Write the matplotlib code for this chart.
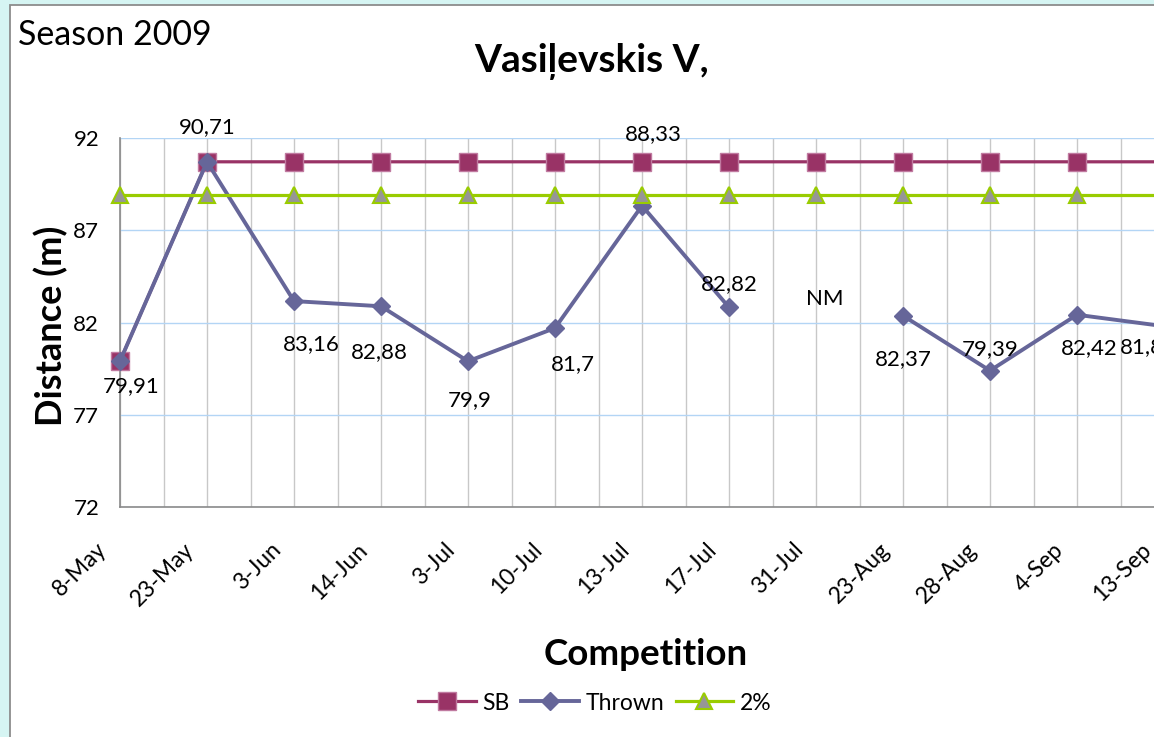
import numpy as np
import matplotlib
matplotlib.use("Agg")
import matplotlib.pyplot as plt
from matplotlib.patches import Rectangle
from matplotlib.ticker import MultipleLocator
import matplotlib.transforms as mtransforms

# ---------------- data ----------------
competitions = ["8-May", "23-May", "3-Jun", "14-Jun", "3-Jul", "10-Jul", "13-Jul",
                "17-Jul", "31-Jul", "23-Aug", "28-Aug", "4-Sep", "13-Sep"]
sb = [79.91, 90.71, 90.71, 90.71, 90.71, 90.71, 90.71, 90.71, 90.71, 90.71, 90.71, 90.71, 90.71]
thrown = [79.91, 90.71, 83.16, 82.88, 79.9, 81.7, 88.33, 82.82, np.nan, 82.37, 79.39, 82.42, 81.8]
two_pct = [88.9, 88.9, 88.9, 88.9, 88.9, 88.9, 88.9, 88.9, 88.9, 88.9, 88.9, 88.9, 88.9]
y_ticks = [72, 77, 82, 87, 92]

# label offsets in pixels (dx, dy; dy positive = up)
label_offsets = [(11, -25), (0, 35), (17, -43), (-2, -46), (2, -39), (18, -36), (11, 72),
                 (0, 23), None, (0, -43.5), (0, 21.5), (12, -33), (-22, -21)]

W, H = 1154, 737
FONT = "Lato"
plt.rcParams['font.family'] = [FONT, 'DejaVu Sans']

fig = plt.figure(figsize=(W / 100, H / 100), dpi=100)
fig.patch.set_facecolor('#d6f5f3')
frame = Rectangle((10 / W, -0.1), 1.2, (H - 5) / H + 0.1, transform=fig.transFigure,
                  facecolor='white', edgecolor='#8c8c8c', lw=1.3, zorder=-5)
fig.patches.append(frame)

ax = fig.add_axes([120 / W, (H - 507) / H, 1044 / W, 369 / H])
ax.set_zorder(2)
ax.patch.set_alpha(0)
x = np.arange(len(competitions))

ax.set_xlim(0, len(competitions) - 1)
ax.set_ylim(72, 92)
ax.set_yticks(y_ticks)
ax.set_xticks(x)
ax.xaxis.set_minor_locator(MultipleLocator(0.5))

ax.grid(axis='x', which='both', color='#c8c8c8', lw=1.0, zorder=0)
ax.grid(axis='y', which='major', color='#b3d5f5', lw=1.0, zorder=0)
ax.set_axisbelow(True)

for s in ['top', 'right']:
    ax.spines[s].set_visible(False)
for s in ['left', 'bottom']:
    ax.spines[s].set_color('#8a8a8a')
    ax.spines[s].set_linewidth(1.2)

ax.tick_params(axis='both', which='both', length=0)
ax.tick_params(axis='y', pad=15, labelsize=16)
ax.tick_params(axis='x', pad=23, labelsize=16.5)
ax.set_xticklabels(competitions, rotation=45, ha='right', va='top')
offset = mtransforms.ScaledTranslation(-9 / 100, 0, fig.dpi_scale_trans)
for lab in ax.get_xticklabels():
    lab.set_transform(lab.get_transform() + offset)

l_sb, = ax.plot(x, sb, color='#993366', lw=2.3, marker='s', ms=12.5,
                mfc='#993366', mec='#c07aa0', mew=1.0, zorder=3, label='SB', clip_on=False)
l_th, = ax.plot(x, thrown, color='#666699', lw=2.8, marker='D', ms=9.5,
                mfc='#666699', mec='#666699', zorder=4, label='Thrown', clip_on=False)
l_2p, = ax.plot(x, two_pct, color='#99cc00', lw=2.3, marker='^', ms=12,
                mfc='#969696', mec='#99cc00', mew=1.5, zorder=5, label='2%', clip_on=False)

for xi, v, off in zip(x, thrown, label_offsets):
    if off is None or np.isnan(v):
        continue
    txt = f"{v:g}".replace('.', ',')
    ax.annotate(txt, xy=(xi, v), xytext=off, textcoords='offset pixels',
                ha='center', va='center', fontsize=16, color='black', zorder=6,
                annotation_clip=False)

ax.annotate("NM", xy=(competitions.index("31-Jul"), 83.27), xytext=(9, 0),
            textcoords='offset pixels', ha='center', va='center', fontsize=16, color='black')

ax.set_ylabel("Distance (m)", fontsize=26, fontweight='bold')
ax.yaxis.set_label_coords(-(120 - 68) / 1044, 0.49, transform=ax.transAxes)

fig.text(592 / W, 1 - 62 / H, "Vasiļevskis V,", ha='center', va='center',
         fontsize=28, fontweight='bold')
fig.text(18 / W, 1 - 45 / H, "Season 2009", ha='left', va='baseline', fontsize=24.5)
fig.text(646 / W, 1 - 665 / H, "Competition", ha='center', va='baseline',
         fontsize=26.5, fontweight='bold')

leg = fig.legend(handles=[l_sb, l_th, l_2p], loc='center', bbox_to_anchor=(595 / W, 1 - 703 / H),
                 ncol=3, frameon=False, fontsize=16.5, handlelength=2.5, handletextpad=0.3,
                 columnspacing=0.5, borderaxespad=0)

fig.savefig("out.png", dpi=100, facecolor=fig.get_facecolor())
